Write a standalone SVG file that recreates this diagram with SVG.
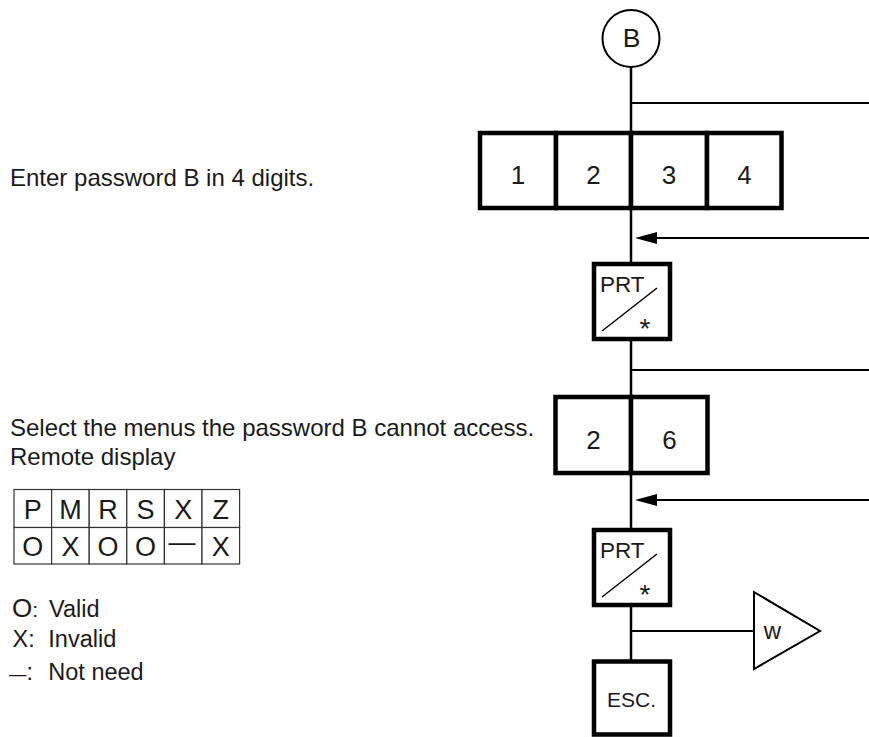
<svg xmlns="http://www.w3.org/2000/svg" width="869" height="737" viewBox="0 0 869 737">
<defs>
<style>
text{font-family:"Liberation Sans",Arial,sans-serif;fill:#1a1a1a}
.key{fill:#fff;stroke:#000;stroke-width:4.5}
.ln{fill:none;stroke:#000;stroke-width:2}
.main{fill:none;stroke:#000;stroke-width:2.5}
.thin{fill:none;stroke:#000;stroke-width:1.5}
.body{font-size:24px}
.leg{font-size:23.5px}
.dig{font-size:26px;text-anchor:middle}
.tbl{font-size:27px;text-anchor:middle}
.cell{fill:#fff;stroke:#333;stroke-width:1.2}
.ast{font-size:28px;text-anchor:middle}
</style>
<marker id="ah" markerUnits="userSpaceOnUse" markerWidth="22" markerHeight="12" refX="7" refY="6" orient="auto">
<path d="M0,0 L22,6 L0,12 z" fill="#000"/>
</marker>
</defs>
<rect width="869" height="737" fill="#fff"/>

<g id="connectors">
<line class="main" x1="631" y1="67" x2="631" y2="134"/>
<line class="main" x1="631" y1="207" x2="631" y2="265"/>
<line class="main" x1="631" y1="338" x2="631" y2="398"/>
<line class="main" x1="631" y1="472" x2="631" y2="531"/>
<line class="main" x1="631" y1="604" x2="631" y2="662"/>
<line class="ln" x1="631" y1="103" x2="869" y2="103"/>
<line class="ln" x1="869" y1="238" x2="650" y2="238" marker-end="url(#ah)"/>
<line class="ln" x1="631" y1="370" x2="869" y2="370"/>
<line class="ln" x1="869" y1="500" x2="650" y2="500" marker-end="url(#ah)"/>
<line class="ln" x1="631" y1="631" x2="754" y2="631"/>
</g>

<g id="nodeB">
<circle cx="631" cy="38.5" r="28.5" fill="#fff" stroke="#000" stroke-width="2"/>
<text x="631.5" y="47" font-size="26.5" text-anchor="middle">B</text>
</g>

<g id="keys1234">
<rect class="key" x="480" y="133" width="76" height="75"/>
<rect class="key" x="556" y="133" width="75" height="75"/>
<rect class="key" x="631" y="133" width="76" height="75"/>
<rect class="key" x="707" y="133" width="74.5" height="75"/>
<text class="dig" x="518" y="183.5">1</text>
<text class="dig" x="593.5" y="183.5">2</text>
<text class="dig" x="669" y="183.5">3</text>
<text class="dig" x="744.5" y="183.5">4</text>
</g>

<g id="prt1">
<rect class="key" x="594" y="264" width="76" height="75"/>
<text x="600" y="291.5" font-size="22.5">PRT</text>
<line class="thin" x1="602" y1="331" x2="657" y2="288"/>
<text class="ast" x="645" y="338">*</text>
</g>

<g id="keys26">
<rect class="key" x="555.5" y="397" width="75.5" height="76"/>
<rect class="key" x="631" y="397" width="76.5" height="76"/>
<text class="dig" x="593.5" y="448.5">2</text>
<text class="dig" x="669.5" y="448.5">6</text>
</g>

<g id="prt2">
<rect class="key" x="594" y="530" width="76" height="75"/>
<text x="600" y="557.5" font-size="22.5">PRT</text>
<line class="thin" x1="602" y1="597" x2="657" y2="554"/>
<text class="ast" x="645" y="604">*</text>
</g>

<g id="esc">
<rect class="key" x="594" y="661.5" width="76" height="73"/>
<text x="631.5" y="707" font-size="21" text-anchor="middle">ESC.</text>
</g>

<g id="w">
<polygon points="754,592 820,631 754,669" fill="#fff" stroke="#000" stroke-width="2"/>
<text x="772.5" y="638.5" font-size="24" text-anchor="middle">w</text>
</g>

<g id="notes">
<text class="body" x="10" y="186">Enter password B in 4 digits.</text>
<text class="body" x="10" y="436">Select the menus the password B cannot access.</text>
<text class="body" x="10" y="465">Remote display</text>
</g>

<g id="table">
<rect class="cell" x="14" y="489.5" width="37.6" height="38"/>
<rect class="cell" x="51.6" y="489.5" width="37.6" height="38"/>
<rect class="cell" x="89.2" y="489.5" width="37.6" height="38"/>
<rect class="cell" x="126.8" y="489.5" width="37.6" height="38"/>
<rect class="cell" x="164.4" y="489.5" width="37.6" height="38"/>
<rect class="cell" x="202" y="489.5" width="37.6" height="38"/>
<rect class="cell" x="14" y="527.5" width="37.6" height="36.5"/>
<rect class="cell" x="51.6" y="527.5" width="37.6" height="36.5"/>
<rect class="cell" x="89.2" y="527.5" width="37.6" height="36.5"/>
<rect class="cell" x="126.8" y="527.5" width="37.6" height="36.5"/>
<rect class="cell" x="164.4" y="527.5" width="37.6" height="36.5"/>
<rect class="cell" x="202" y="527.5" width="37.6" height="36.5"/>
<text class="tbl" x="32.8" y="519">P</text>
<text class="tbl" x="70.4" y="519">M</text>
<text class="tbl" x="108" y="519">R</text>
<text class="tbl" x="145.6" y="519">S</text>
<text class="tbl" x="183.2" y="519">X</text>
<text class="tbl" x="220.8" y="519">Z</text>
<text class="tbl" x="32.8" y="556">O</text>
<text class="tbl" x="70.4" y="556">X</text>
<text class="tbl" x="108" y="556">O</text>
<text class="tbl" x="145.6" y="556">O</text>
<text class="tbl" x="182" y="550.5" font-size="14">—</text>
<text class="tbl" x="220.8" y="556">X</text>
</g>

<g id="legend">
<text x="12" y="616.5" font-size="26">O<tspan font-size="21">:</tspan></text>
<text class="leg" x="49" y="616.5">Valid</text>
<text class="leg" x="12.5" y="647">X:</text>
<text class="leg" x="48.3" y="647">Invalid</text>
<text x="9" y="679.5" font-size="17.5">—<tspan font-size="23.5">:</tspan></text>
<text class="leg" x="48.3" y="679.5">Not need</text>
</g>
</svg>
